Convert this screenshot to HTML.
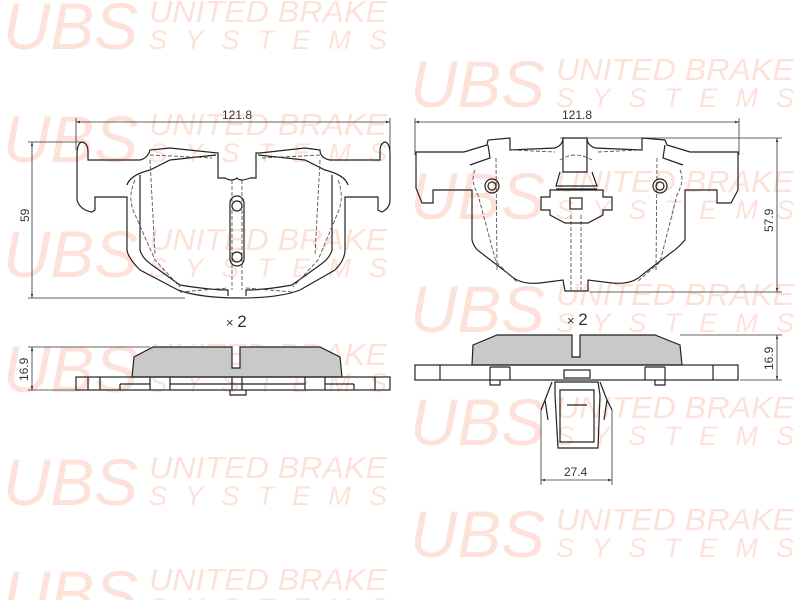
<!DOCTYPE html>
<html><head><meta charset="utf-8"><style>
html,body{margin:0;padding:0;background:#fff;width:800px;height:600px;overflow:hidden}
svg{position:absolute;left:0;top:0}
.wb{font-family:"Liberation Sans",sans-serif;font-style:italic;fill:#fde2d9}
.u{font-size:66px}
.t{font-size:31px}
.s{font-size:27px}
.l{fill:none;stroke:#222;stroke-width:1.2}
.d{fill:none;stroke:#555;stroke-width:0.9;stroke-dasharray:4 2}
.m{fill:none;stroke:#333;stroke-width:0.8}
.tx{font-family:"Liberation Sans",sans-serif;font-size:12px;fill:#333}
</style></head><body>
<svg width="800" height="600" viewBox="0 0 800 600">
<defs>
<g id="wm">
<text class="wb u" x="0" y="52" textLength="135" lengthAdjust="spacingAndGlyphs">UBS</text>
<text class="wb t" x="146" y="25" textLength="238" lengthAdjust="spacingAndGlyphs">UNITED BRAKE</text>
<text class="wb s" x="146" y="52" textLength="238" lengthAdjust="spacing">SYSTEMS</text>
</g>
<marker id="a" viewBox="0 0 10 10" refX="10" refY="5" markerWidth="7" markerHeight="5" orient="auto-start-reverse"><path d="M0,2 L10,5 L0,8z" fill="#333"/></marker>
</defs>
<use href="#wm" x="3" y="-3"/>
<use href="#wm" x="3" y="110"/>
<use href="#wm" x="3" y="225"/>
<use href="#wm" x="3" y="340"/>
<use href="#wm" x="3" y="453"/>
<use href="#wm" x="3" y="565"/>
<use href="#wm" x="410" y="55"/>
<use href="#wm" x="410" y="167"/>
<use href="#wm" x="410" y="280"/>
<use href="#wm" x="410" y="393"/>
<use href="#wm" x="410" y="505"/>

<!-- LEFT TOP VIEW -->
<line class="m" x1="76" y1="118" x2="76" y2="150"/>
<line class="m" x1="390" y1="118" x2="390" y2="150"/>
<line class="m" x1="76" y1="122" x2="390" y2="122" marker-start="url(#a)" marker-end="url(#a)"/>
<text class="tx" x="222" y="119">121.8</text>
<line class="m" x1="28" y1="142" x2="82" y2="142"/>
<line class="m" x1="28" y1="298" x2="185" y2="298"/>
<line class="m" x1="32" y1="142" x2="32" y2="298" marker-start="url(#a)" marker-end="url(#a)"/>
<text class="tx" transform="translate(29,222) rotate(-90)">59</text>
<path class="l" d="M82,142 Q77,143 77,155 L77,200 Q80,210 92,212 L95,210 L95,197 L127,197 L127,250 Q128,258 140,270 L178,290 Q200,298 240,298 Q280,298 300,290 L335,270 Q345,260 345,250 L345,197 L378,197 L378,210 L382,212 Q390,208 390,200 L390,155 Q390,143 385,142 Q380,143 380,152 L380,160 L355,160 L330,160 Q320,158 320,150 L305,148 L260,153 L256,153 L256,178 L250,178 Q240,182 237,178 Q232,182 225,178 L218,178 L218,153 L170,148 L150,150 Q148,158 140,160 L112,160 L88,160 L88,152 Q88,143 82,142Z"/>
<path class="l" d="M127,185 Q130,175 150,170 L170,160 L216,155 M258,155 L305,160 L325,170 Q345,175 348,185"/>
<path class="l" d="M140,175 L140,250 Q142,258 152,265 L180,285 Q210,290 228,290 L228,296 M246,296 L246,290 Q265,290 292,285 L320,265 Q330,258 332,250 L332,175"/>
<path class="d" d="M135,180 Q128,195 133,210 L155,260 L180,287 M150,160 L155,255 M320,160 L315,255 M338,180 Q344,195 339,210 L318,260 L293,287 M232,180 L232,290 M242,180 L242,290 M150,155 L212,158 M262,158 L322,155 M180,292 L228,288 M246,288 L293,292"/>
<rect class="l" x="230" y="196" width="14" height="70" rx="7"/>
<circle class="l" cx="237" cy="206" r="5"/>
<circle class="l" cx="237" cy="257" r="5"/>
<text class="tx" x="226" y="327" style="font-size:13px">× <tspan style="font-size:17px">2</tspan></text>

<!-- LEFT SIDE VIEW -->
<line class="m" x1="28" y1="347" x2="150" y2="347"/>
<line class="m" x1="28" y1="390" x2="80" y2="390"/>
<line class="m" x1="32" y1="347" x2="32" y2="390" marker-start="url(#a)" marker-end="url(#a)"/>
<text class="tx" transform="translate(28,381) rotate(-90)">16.9</text>
<path d="M132,377 L134,357 L153,347 L232,347 L232,368 L240,368 L240,347 L320,347 L340,357 L342,377Z" fill="#c9c9c9" stroke="#222" stroke-width="1.2"/>
<rect class="l" x="76" y="377" width="314" height="13"/>
<path class="l" d="M88,377V390 M100,377V390 M150,377V390 M170,377V390 M305,377V390 M325,377V390 M375,377V390 M120,384H150 M170,384H305 M325,384H354 M120,384V390 M354,384V390 M230,390V395H246V390 M232,377V390 M242,377V390"/>

<!-- RIGHT TOP VIEW -->
<line class="m" x1="415" y1="118" x2="415" y2="155"/>
<line class="m" x1="739" y1="118" x2="739" y2="155"/>
<line class="m" x1="415" y1="122" x2="739" y2="122" marker-start="url(#a)" marker-end="url(#a)"/>
<text class="tx" x="562" y="119">121.8</text>
<line class="m" x1="560" y1="138" x2="782" y2="138"/>
<line class="m" x1="590" y1="292" x2="782" y2="292"/>
<line class="m" x1="777" y1="138" x2="777" y2="292" marker-start="url(#a)" marker-end="url(#a)"/>
<text class="tx" transform="translate(773,232) rotate(-90)">57.9</text>
<path class="l" d="M416,152 L416,188 L422,203 L433,203 L433,190 L472,190 L472,240 Q474,248 480,252 L510,275 Q520,285 540,283 L563,280 L565,291 L588,291 L588,280 L612,283 Q632,285 642,275 L672,252 Q678,248 685,240 L685,190 L717,190 L717,203 L731,203 L738,190 L738,152 L690,152 L667,145 L665,140 L642,138 L642,150 L595,148 Q587,145 587,138 L563,138 Q563,145 555,148 L510,150 L510,138 L488,140 L487,145 L464,152Z"/>
<path class="l" d="M563,138 L563,172 L587,172 L587,138 M488,145 L490,158 L470,165 M665,145 L663,158 L683,165"/>
<path class="d" d="M475,170 Q470,180 478,195 L496,262 L517,282 M496,158 L497,270 M657,158 L656,270 M680,170 Q685,180 677,195 L660,262 L637,282 M571,215 L571,290 M581,215 L581,290 M512,150 L555,152 M598,152 L640,150 M560,160 Q575,150 592,160"/>
<circle class="l" cx="492" cy="186" r="7"/><circle class="l" cx="492" cy="186" r="4"/>
<circle class="l" cx="660" cy="186" r="7"/><circle class="l" cx="660" cy="186" r="4"/>
<path class="l" d="M560,172 L556,186 L597,186 L592,172 M556,189 L597,189 M550,190 L550,197 L541,197 L541,210 L550,210 L550,215 L565,223 L588,223 L603,215 L603,210 L612,210 L612,197 L603,197 L603,190Z"/>
<rect class="l" x="570" y="198" width="12" height="11"/>
<text class="tx" x="567" y="325" style="font-size:13px">× <tspan style="font-size:17px">2</tspan></text>

<!-- RIGHT SIDE VIEW -->
<line class="m" x1="680" y1="335" x2="782" y2="335"/>
<line class="m" x1="740" y1="380" x2="782" y2="380"/>
<line class="m" x1="777" y1="335" x2="777" y2="380" marker-start="url(#a)" marker-end="url(#a)"/>
<text class="tx" transform="translate(773,370) rotate(-90)">16.9</text>
<path d="M472,365 L473,345 L497,335 L572,335 L572,357 L580,357 L580,335 L655,335 L680,345 L682,365Z" fill="#c9c9c9" stroke="#222" stroke-width="1.2"/>
<rect class="l" x="415" y="365" width="323" height="15"/>
<path class="l" d="M440,365V380 M490,367V380 M510,367V380 M490,367H510 M645,367V380 M665,367V380 M645,367H665 M713,365V380 M490,380V385H500V380 M655,380V385H665V380"/>
<rect class="l" x="564" y="370" width="26" height="8"/>
<path class="l" d="M555,382 L598,382 L600,395 L598,448 L558,448 L555,395Z M560,390 L594,390 L594,442 L560,442Z M567,405 L587,405 M552,382 L545,400 L548,420 M600,382 L607,400 L604,420 M545,400 L541,410 M607,400 L612,410"/>
<line class="m" x1="541" y1="410" x2="541" y2="485"/>
<line class="m" x1="612" y1="410" x2="612" y2="485"/>
<line class="m" x1="541" y1="480" x2="612" y2="480" marker-start="url(#a)" marker-end="url(#a)"/>
<text class="tx" x="564" y="476">27.4</text>
</svg>
</body></html>
